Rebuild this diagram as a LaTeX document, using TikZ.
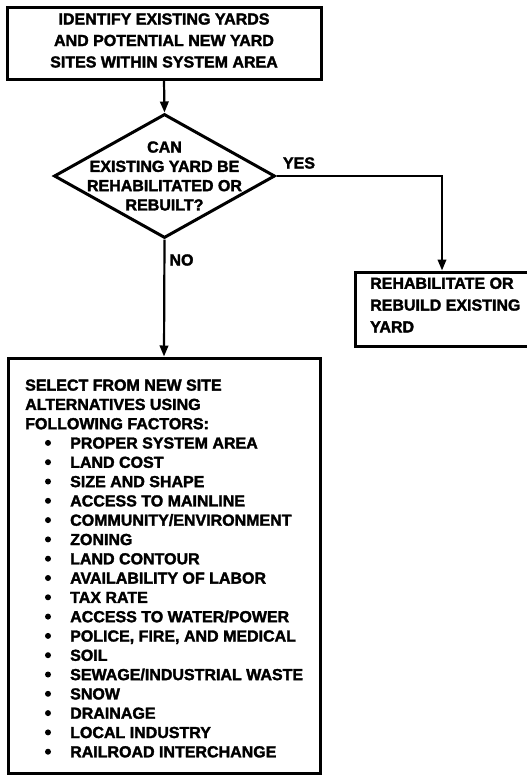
\documentclass[tikz,border=0pt]{standalone}
\usepackage{fontspec}
\setmainfont{Liberation Sans}[BoldFeatures={FakeBold=2}]
\usetikzlibrary{shapes.geometric,arrows.meta}

% indented entry of the factor list (its dot is drawn separately)
\newcommand\factoritem[1]{\hspace*{45pt}#1}

\tikzset{
  frame/.style={draw, line width=3pt, rectangle, inner sep=0pt},
  question/.style={draw, line width=3pt, diamond, inner sep=0pt},
  flow/.style={line width=2.2pt, -{Triangle[length=11pt,width=8.5pt]}},
  words/.style={inner sep=0pt, font=\fontsize{16}{#1}\selectfont\bfseries},
  words/.default=19.3,
  listdot/.style={fill=black},
}

\begin{document}
\begin{tikzpicture}[x=1pt, y=-1pt]
\useasboundingbox (0,0) rectangle (527,777);
\fill[white] (0,0) rectangle (527,777);
\clip (0,0) rectangle (527,777);

% boxes and decision
\node[frame, minimum width=314pt, minimum height=72pt] (identify) at (164,43) {};
\node[question, minimum width=221pt, minimum height=124pt] (decide) at (164.5,176) {};
\node[frame, minimum width=174pt, minimum height=74pt] (rehab) at (442,309) {};
\node[frame, minimum width=312pt, minimum height=415pt] (select) at (164,565.5) {};

% texts
\node[words=21.5, align=center] (identifytext) at (164,40.5)
  {IDENTIFY EXISTING YARDS\\AND POTENTIAL NEW YARD\\SITES WITHIN SYSTEM AREA};
\node[words=19.3, align=center] (decidetext) at (164.5,176)
  {CAN\\EXISTING YARD BE\\REHABILITATED OR\\REBUILT?};
\node[words=21.8, align=left, anchor=west] (rehabtext) at (370,305)
  {REHABILITATE OR\\REBUILD EXISTING\\YARD};
\node[words=19.3, align=left, anchor=north west] (selecttext) at (25,379.25)
  {SELECT FROM NEW SITE\\ALTERNATIVES USING\\FOLLOWING FACTORS:\\
   \factoritem{PROPER SYSTEM AREA}\\
   \factoritem{LAND COST}\\
   \factoritem{SIZE AND SHAPE}\\
   \factoritem{ACCESS TO MAINLINE}\\
   \factoritem{COMMUNITY/ENVIRONMENT}\\
   \factoritem{ZONING}\\
   \factoritem{LAND CONTOUR}\\
   \factoritem{AVAILABILITY OF LABOR}\\
   \factoritem{TAX RATE}\\
   \factoritem{ACCESS TO WATER/POWER}\\
   \factoritem{POLICE, FIRE, AND MEDICAL}\\
   \factoritem{SOIL}\\
   \factoritem{SEWAGE/INDUSTRIAL WASTE}\\
   \factoritem{SNOW}\\
   \factoritem{DRAINAGE}\\
   \factoritem{LOCAL INDUSTRY}\\
   \factoritem{RAILROAD INTERCHANGE}};

% list dots
\foreach \i in {0,...,16}
  \fill[listdot] (48,442.9+19.3*\i) circle (3pt);

% connectors
\draw[flow] (identify.south) -- (decide.north);
\draw[flow] (decide.east) -| (rehab.north);
\draw[flow] (decide.south) -- (select.north);

% branch labels
\node[words] (yes) at (299,163) {YES};
\node[words] (no) at (181.5,260) {NO};
\end{tikzpicture}
\end{document}
